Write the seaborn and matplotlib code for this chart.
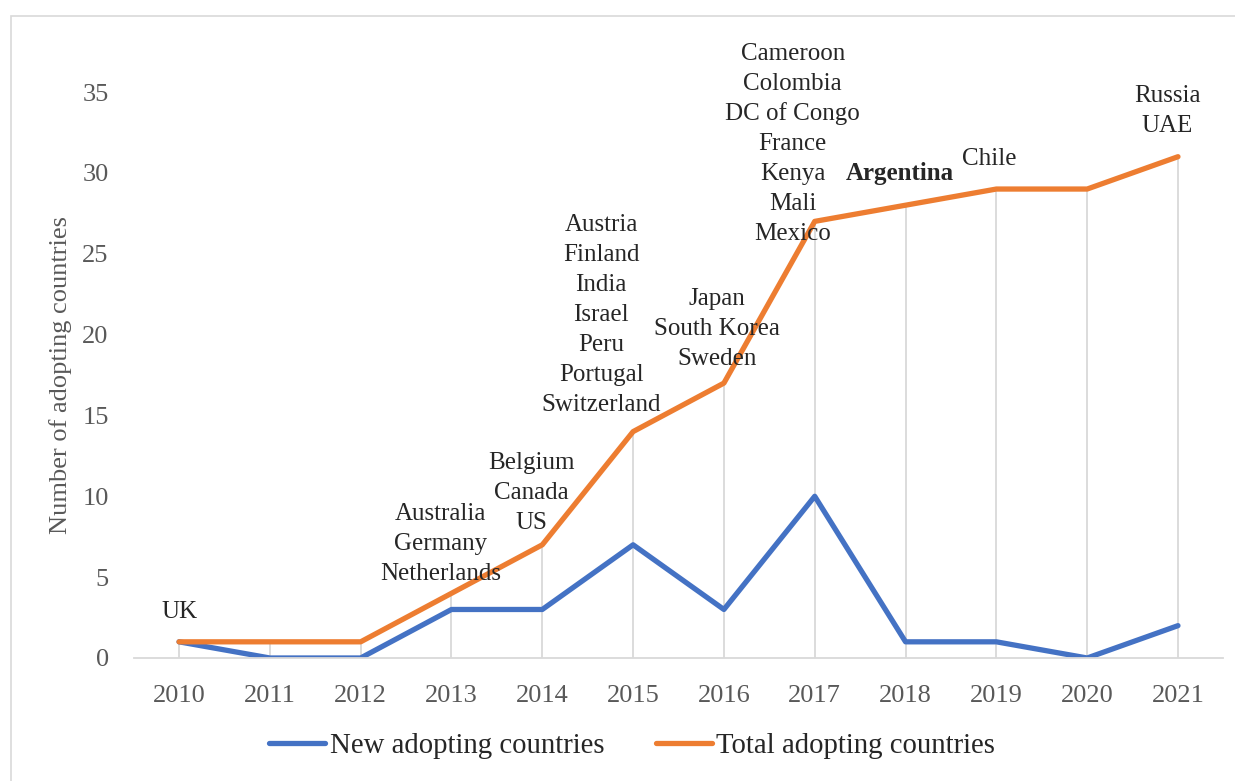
import pandas as pd
import matplotlib.pyplot as plt
import matplotlib.patches as patches
import seaborn as sns

# values
years = [2010, 2011, 2012, 2013, 2014, 2015, 2016, 2017, 2018, 2019, 2020, 2021]
new_countries = [1, 0, 0, 3, 3, 7, 3, 10, 1, 1, 0, 2]
total_countries = [1, 1, 1, 4, 7, 14, 17, 27, 28, 29, 29, 31]
country_labels = [
    "UK", "", "",
    "Australia\nGermany\nNetherlands",
    "Belgium\nCanada\nUS",
    "Austria\nFinland\nIndia\nIsrael\nPeru\nPortugal\nSwitzerland",
    "Japan\nSouth Korea\nSweden",
    "Cameroon\nColombia\nDC of Congo\nFrance\nKenya\nMali\nMexico",
    "Argentina", "Chile", "",
    "Russia\nUAE",
]
series_names = ["New adopting countries", "Total adopting countries"]

# label placement (pixels from the point to the baseline of the last line)
label_offsets = {2010: (0, 24), 2013: (-11, 13), 2014: (-11, 16), 2015: (-32, 21),
                 2016: (-7, 18), 2017: (-22, -19), 2018: (-6, 25), 2019: (-7, 24),
                 2021: (-11, 25)}
line_step = 30
bold_labels = {2018}

df = pd.DataFrame({
    "year": years * 2,
    "count": new_countries + total_countries,
    "series": [series_names[0]] * len(years) + [series_names[1]] * len(years),
})

sns.set_style("white")
plt.rcParams["font.family"] = ["Liberation Serif", "DejaVu Serif"]

fig, ax = plt.subplots(figsize=(12.35, 7.81), dpi=100)
fig.subplots_adjust(left=0.1082, right=0.9906, bottom=0.1575, top=0.9443)

# drop lines from the total series down to the axis
ax.vlines(years, 0, total_countries, color="#d9d9d9", lw=1.3, zorder=1)

sns.lineplot(data=df, x="year", y="count", hue="series",
             palette=["#4472C4", "#ED7D31"], linewidth=3.8, ax=ax, zorder=2,
             solid_capstyle="round", solid_joinstyle="round")

# country labels, one line at a time from the bottom up
for yr, tot, lab in zip(years, total_countries, country_labels):
    if not lab:
        continue
    dx, dy = label_offsets[yr]
    for i, line in enumerate(reversed(lab.split("\n"))):
        ax.annotate(line, (yr, tot), xytext=(dx, dy + i * line_step),
                    textcoords="offset pixels", ha="center", va="baseline",
                    fontsize=18, color="#262626", zorder=5,
                    fontweight="bold" if yr in bold_labels else "normal")

ax.set_xlim(2009.5, 2021.5)
ax.set_ylim(0, 38)
ax.set_xticks(years)
ax.set_yticks(range(0, 36, 5))
ax.tick_params(axis="x", length=0, labelsize=19, colors="#595959", pad=19.5)
ax.tick_params(axis="y", length=0, labelsize=19, colors="#595959", pad=18)
ax.set_xlabel("")
ax.set_ylabel("Number of adopting countries", fontsize=19, color="#595959")
ax.yaxis.set_label_coords(-0.0565, 0.4605)

for side in ["left", "top", "right"]:
    ax.spines[side].set_visible(False)
ax.spines["bottom"].set_color("#d9d9d9")
ax.spines["bottom"].set_linewidth(1.3)

handles, labels = ax.get_legend_handles_labels()
ax.legend(handles, labels, loc="center", bbox_to_anchor=(0.512, 0.0448),
          bbox_transform=fig.transFigure, ncol=2, frameon=False, fontsize=20.7,
          handlelength=1.95, handletextpad=0.15, columnspacing=1.8,
          labelcolor="#262626")

# chart border (only top and left are in frame)
fig.patches.append(patches.Rectangle((0.0093, -0.1), 1.2, 1.079, fill=False,
                                     edgecolor="#d9d9d9", lw=1.2,
                                     transform=fig.transFigure, figure=fig))

plt.savefig("out.png", dpi=100)
plt.close()
